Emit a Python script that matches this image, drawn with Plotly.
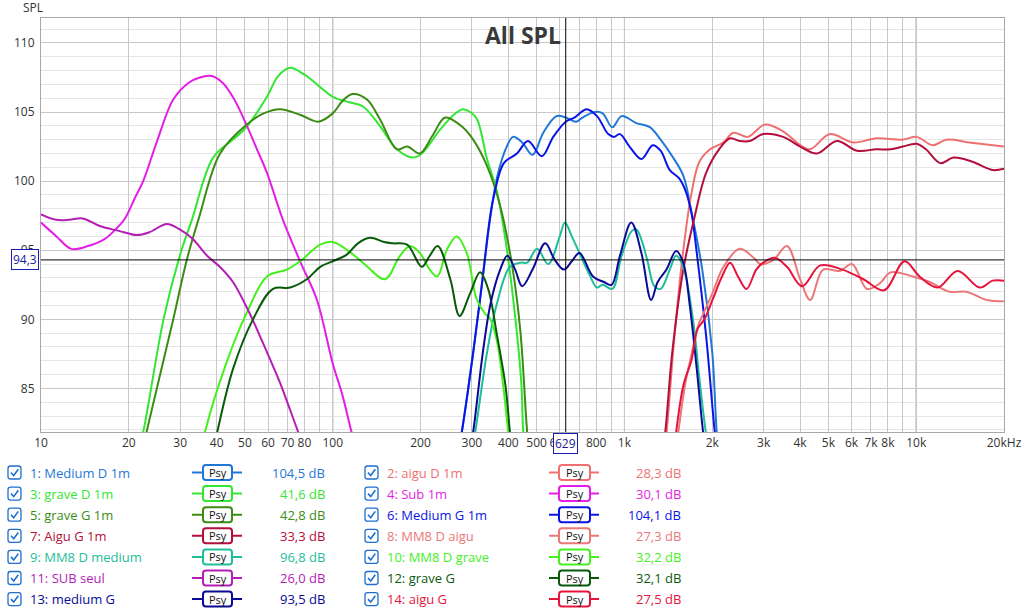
import numpy as np
import plotly.graph_objects as go

# %% courbes lues sur le graphe REW (Hz, dB SPL)
f1 = [270, 277, 303, 324, 345, 366, 397, 415, 446, 484, 527, 585, 629, 684, 718, 792, 842, 908, 978, 1098, 1222, 1330, 1458, 1591, 1700, 1848, 2000, 2072, 2110]
s1 = [80.5, 81.85, 87.6, 92.4, 97.0, 100.3, 102.6, 103.2, 102.8, 101.9, 103.5, 104.7, 104.6, 104.3, 104.6, 105.0, 104.9, 103.9, 104.7, 104.2, 103.9, 103.0, 101.8, 100.4, 97.7, 93.6, 87.6, 81.85, 80.5]

f2 = [1370, 1395, 1480, 1591, 1700, 1807, 1966, 2185, 2363, 2646, 3037, 3497, 4003, 4332, 5064, 6075, 7324, 8984, 10036, 11390, 12703, 15201, 20000]
s2 = [80.5, 81.85, 88.5, 95.0, 99.2, 101.4, 102.3, 102.8, 103.5, 103.2, 104.1, 103.6, 102.6, 102.3, 103.4, 102.8, 103.1, 103.0, 103.2, 102.6, 103.0, 102.8, 102.5]

f3 = [21.5, 22.4, 26.3, 29.9, 32.9, 38.9, 45.5, 50.8, 59.5, 65, 71.3, 80, 90.6, 100, 114, 127, 145, 166, 188, 202, 233, 260, 279, 296, 312, 338, 366, 395, 422, 443, 450, 458]
s3 = [80.5, 81.85, 90.0, 94.6, 97.2, 101.7, 103.0, 103.95, 106.1, 107.6, 108.2, 107.7, 106.8, 106.1, 105.7, 105.4, 104.0, 102.3, 101.7, 102.0, 103.7, 104.8, 105.2, 105.0, 104.5, 101.6, 99.2, 95.1, 90.2, 85.4, 81.85, 80.5]

f4 = [10, 11.3, 12.7, 14.5, 16.5, 18.0, 19.4, 21.0, 22.4, 25, 28.4, 32, 35, 38.5, 42, 46, 50.8, 55, 59.5, 67.5, 77.3, 88.3, 100, 108, 116, 120]
s4 = [97.0, 96.0, 95.1, 95.3, 95.8, 96.5, 97.3, 98.8, 100.0, 102.9, 105.9, 107.1, 107.5, 107.6, 107.1, 105.9, 104.0, 102.3, 100.6, 97.2, 94.2, 91.4, 86.8, 84.5, 81.85, 80.8]

f5 = [22.3, 23.0, 28.4, 31.6, 34.8, 41.1, 50.8, 58, 66.0, 77.3, 89.1, 100, 108, 117, 131, 145, 166, 180, 199, 220, 243, 279, 303, 338, 375, 412, 440, 464, 472]
s5 = [80.5, 81.85, 90.0, 94.3, 97.35, 102.0, 104.1, 104.9, 105.2, 104.8, 104.3, 104.9, 105.8, 106.3, 105.9, 104.5, 102.3, 102.5, 102.0, 103.3, 104.6, 103.9, 103.0, 101.1, 98.2, 93.9, 89.1, 81.85, 80.5]

f6 = [270, 277, 303, 324, 345, 355, 386, 428, 467, 521, 570, 629, 674, 742, 805, 880, 920, 965, 1041, 1143, 1250, 1330, 1430, 1540, 1620, 1700, 1770, 1905, 2040, 2080]
s6 = [80.5, 81.85, 87.6, 92.4, 97.2, 98.7, 101.3, 102.0, 102.9, 101.8, 103.2, 104.3, 104.6, 105.2, 104.7, 103.4, 103.2, 103.4, 102.5, 101.6, 102.6, 102.2, 100.8, 100.2, 99.3, 97.6, 94.8, 88.8, 81.85, 80.5]

f7 = [1350, 1380, 1458, 1591, 1730, 1905, 2110, 2302, 2484, 2690, 2990, 3497, 4003, 4572, 5350, 6270, 7300, 8170, 9000, 10036, 10800, 12100, 13420, 15580, 18270, 20000]
s7 = [80.5, 81.85, 87.6, 93.6, 97.2, 100.6, 102.3, 103.1, 102.9, 102.9, 103.4, 103.2, 102.5, 102.0, 102.9, 102.2, 102.3, 102.3, 102.5, 102.7, 102.3, 101.3, 101.7, 101.4, 100.8, 100.9]

f8 = [1500, 1530, 1620, 1700, 1780, 1880, 2003, 2185, 2484, 2790, 2920, 3240, 3606, 4003, 4332, 4798, 5470, 6026, 6784, 7500, 8170, 9740, 11130, 13010, 14850, 17450, 20000]
s8 = [80.5, 81.85, 85.5, 87.5, 89.4, 90.6, 91.9, 93.8, 95.1, 94.4, 94.0, 94.3, 95.3, 92.9, 91.4, 93.6, 93.5, 94.0, 92.2, 92.6, 93.4, 93.1, 92.7, 92.0, 92.0, 91.4, 91.3]

f9 = [300, 308, 338, 366, 405, 440, 464, 502, 548, 600, 625, 660, 701, 760, 805, 842, 908, 978, 1060, 1100, 1150, 1200, 1265, 1330, 1430, 1504, 1590, 1717, 1807, 1900, 1950]
s9 = [80.5, 81.85, 87.6, 91.2, 93.8, 94.1, 94.1, 95.1, 94.0, 96.0, 97.0, 96.0, 94.8, 93.2, 92.3, 92.5, 92.2, 94.6, 96.4, 96.5, 95.6, 94.2, 92.4, 92.2, 93.6, 94.6, 93.8, 90.0, 85.7, 81.85, 80.5]

f10 = [35.5, 36.5, 43.3, 50.8, 59.5, 69.6, 77.3, 90.6, 100, 114, 130, 151, 170, 184, 199, 215, 228, 247, 266, 288, 311, 333, 345, 365, 385, 400, 410]
s10 = [80.5, 81.85, 86.9, 90.5, 93.1, 93.6, 94.2, 95.4, 95.6, 94.9, 93.9, 92.9, 94.6, 95.3, 94.8, 93.6, 93.1, 95.1, 96.0, 94.8, 91.5, 90.4, 90.1, 88.5, 85.0, 81.85, 80.5]

f11 = [10, 11.3, 12.5, 13.9, 15.9, 18.5, 21.3, 23.5, 27.0, 29.9, 33.2, 37.1, 41, 45.5, 52, 56, 61, 66, 71, 76.1, 80]
s11 = [97.6, 97.2, 97.2, 97.3, 96.75, 96.4, 96.1, 96.3, 96.9, 96.5, 95.8, 94.6, 93.8, 92.7, 90.4, 88.9, 87.1, 85.4, 83.6, 81.85, 80.5]

f12 = [39, 40.2, 45.5, 53.3, 62.4, 71.5, 81.5, 90.6, 100, 112, 122, 134, 150, 161, 180, 202, 215, 229, 253, 272, 296, 320, 341, 366, 391, 405, 412]
s12 = [80.5, 81.85, 86.4, 90.0, 92.2, 92.3, 92.9, 93.8, 94.2, 94.7, 95.5, 95.9, 95.6, 95.5, 95.4, 93.8, 94.6, 95.3, 92.9, 90.25, 91.9, 93.4, 92.2, 88.8, 85.2, 81.85, 80.5]

f13 = [295, 303, 327, 348, 375, 397, 422, 446, 484, 535, 577, 620, 660, 701, 780, 850, 903, 965, 1055, 1143, 1234, 1300, 1393, 1504, 1590, 1675, 1770, 1860, 1900]
s13 = [80.5, 81.85, 87.6, 91.2, 93.6, 94.6, 93.6, 92.4, 93.6, 95.5, 94.3, 93.6, 94.2, 94.8, 93.1, 92.7, 92.5, 94.6, 97.0, 94.8, 91.4, 92.7, 93.6, 94.95, 94.1, 91.0, 86.4, 81.85, 80.5]

f14 = [1480, 1504, 1591, 1700, 1780, 1880, 2003, 2160, 2302, 2450, 2621, 2830, 2990, 3274, 3606, 4065, 4688, 5580, 6590, 7760, 9120, 10270, 11840, 13870, 16520, 18270, 20000]
s14 = [80.5, 81.85, 85.2, 87.1, 89.3, 90.0, 91.4, 93.1, 94.1, 93.1, 92.2, 93.6, 94.1, 94.45, 93.8, 92.4, 93.9, 93.6, 92.9, 92.1, 94.2, 93.1, 92.3, 93.5, 92.3, 92.8, 92.8]

names = ["1: Medium D 1m", "2: aigu D 1m", "3: grave D 1m", "4: Sub 1m", "5: grave G 1m",
         "6: Medium G 1m", "7: Aigu G 1m", "8: MM8 D aigu", "9: MM8 D medium", "10: MM8 D grave",
         "11: SUB seul", "12: grave G", "13: medium G", "14: aigu G"]
levels = ["104,5 dB", "28,3 dB", "41,6 dB", "30,1 dB", "42,8 dB", "104,1 dB", "33,3 dB",
          "27,3 dB", "96,8 dB", "32,2 dB", "26,0 dB", "32,1 dB", "93,5 dB", "27,5 dB"]
colors = ["#1f78d8", "#f07070", "#32e632", "#e51ee5", "#3c8c14", "#0a14e6", "#b40f3c",
          "#eb7878", "#1ebe9b", "#46f01e", "#b41eb4", "#0a5a0a", "#0a0a96", "#e6143c"]

freqs = [f1, f2, f3, f4, f5, f6, f7, f8, f9, f10, f11, f12, f13, f14]
spls = [s1, s2, s3, s4, s5, s6, s7, s8, s9, s10, s11, s12, s13, s14]

x_ticks = [10, 20, 30, 40, 50, 60, 70, 80, 90, 100, 200, 300, 400, 500, 600, 700, 800, 900,
           1000, 2000, 3000, 4000, 5000, 6000, 7000, 8000, 9000, 10000, 20000]
x_labels = ["10", "20", "30", "40", "50", "60", "70", "80", "", "100", "200", "300", "400", "500",
            "600", "", "800", "", "1k", "2k", "3k", "4k", "5k", "6k", "7k", "8k", "", "10k", "20kHz"]
cursor_f = 629
cursor_db = 94.3

# %% figure
W, H = 1024, 610
L, R, T, B = 41, 1004, 18, 432


def px(x):
    return (x - L) / (R - L)


def py(y):
    return (B - y) / (B - T)


fig = go.Figure()
for f, s, c, n in zip(freqs, spls, colors, names):
    fig.add_trace(go.Scatter(x=f, y=s, mode="lines", name=n,
                             line=dict(color=c, width=2, shape="spline", smoothing=1.0),
                             showlegend=False, hoverinfo="skip"))

shapes = []
# lignes des decades plus foncees
for d in [100, 1000, 10000]:
    shapes.append(dict(type="line", xref="x", yref="paper", x0=d, x1=d, y0=0, y1=1,
                       line=dict(color="#7a7a7a", width=1), layer="between"))
# curseur
shapes.append(dict(type="line", xref="x", yref="paper", x0=cursor_f, x1=cursor_f, y0=0, y1=1,
                   line=dict(color="black", width=1), layer="above"))
shapes.append(dict(type="line", xref="paper", yref="y", x0=0, x1=1, y0=cursor_db, y1=cursor_db,
                   line=dict(color="black", width=1), layer="above"))


def rrect(x0, y0, x1, y1, r):
    rx = r / (R - L)
    ry = r / (B - T)
    a0, a1 = px(x0), px(x1)
    b0, b1 = py(y1), py(y0)
    return (f"M {a0+rx} {b0} L {a1-rx} {b0} Q {a1} {b0} {a1} {b0+ry} L {a1} {b1-ry} "
            f"Q {a1} {b1} {a1-rx} {b1} L {a0+rx} {b1} Q {a0} {b1} {a0} {b1-ry} "
            f"L {a0} {b0+ry} Q {a0} {b0} {a0+rx} {b0} Z")


annotations = []
row_y = [472.5 + 21.1 * i for i in range(7)]
cols = [dict(cb=8, txt=28, l0=192, b0=203, b1=232, l1=242, val=327),
        dict(cb=365, txt=385, l0=549, b0=559, b1=590, l1=599, val=683)]

for i in range(14):
    col = cols[i % 2]
    yc = row_y[i // 2]
    c = colors[i]
    # case a cocher
    shapes.append(dict(type="path", xref="paper", yref="paper",
                       path=rrect(col["cb"], yc - 6.5, col["cb"] + 13, yc + 6.5, 2.5),
                       line=dict(color="#1e6fd0", width=1.3), fillcolor="white"))
    x0 = col["cb"]
    shapes.append(dict(type="path", xref="paper", yref="paper",
                       path=f"M {px(x0+3)} {py(yc)} L {px(x0+5.7)} {py(yc+3)} L {px(x0+10.3)} {py(yc-3.3)}",
                       line=dict(color="#1e6fd0", width=1.6)))
    # symbole Psy
    shapes.append(dict(type="line", xref="paper", yref="paper",
                       x0=px(col["l0"]), x1=px(col["l1"]), y0=py(yc), y1=py(yc),
                       line=dict(color=c, width=2)))
    shapes.append(dict(type="path", xref="paper", yref="paper",
                       path=rrect(col["b0"], yc - 7.5, col["b1"], yc + 7.5, 3),
                       line=dict(color=c, width=2), fillcolor="white"))
    annotations.append(dict(x=px((col["b0"] + col["b1"]) / 2), y=py(yc), xref="paper", yref="paper",
                            text="Psy", showarrow=False, xanchor="center", yanchor="middle",
                            font=dict(family="Open Sans", size=11, color="#111")))
    annotations.append(dict(x=px(col["txt"]), y=py(yc), xref="paper", yref="paper",
                            text=names[i], showarrow=False, xanchor="left", yanchor="middle",
                            font=dict(family="Open Sans", size=13, color=c)))
    annotations.append(dict(x=px(col["val"]), y=py(yc), xref="paper", yref="paper",
                            text=levels[i], showarrow=False, xanchor="right", yanchor="middle",
                            font=dict(family="Open Sans", size=13, color=c)))

annotations += [
    dict(x=0.5, y=py(35), xref="paper", yref="paper", text="<b>All SPL</b>", showarrow=False,
         xanchor="center", yanchor="middle", font=dict(family="Open Sans", size=23, color="#3a3a3a")),
    dict(x=px(21), y=py(8), xref="paper", yref="paper", text="SPL", showarrow=False,
         xanchor="left", yanchor="middle", font=dict(family="Open Sans", size=12, color="#333")),
    dict(x=px(39), y=cursor_db, xref="paper", yref="y", text="94,3", showarrow=False,
         xanchor="right", yanchor="middle", bgcolor="white", bordercolor="#1a1ab4",
         borderwidth=1, borderpad=1, font=dict(family="Open Sans", size=12, color="#1a1a9a")),
    dict(x=np.log10(cursor_f), y=py(443.5), xref="x", yref="paper", text="629", showarrow=False,
         xanchor="center", yanchor="middle", bgcolor="white", bordercolor="#1a1ab4",
         borderwidth=1, borderpad=1, font=dict(family="Open Sans", size=12, color="#1a1a9a")),
]

fig.update_layout(
    width=W, height=H,
    margin=dict(l=L, r=W - R, t=T, b=H - B),
    paper_bgcolor="white", plot_bgcolor="white",
    shapes=shapes, annotations=annotations,
    xaxis=dict(type="log", range=[1, np.log10(20000)], tickmode="array", automargin=False,
               tickvals=x_ticks, ticktext=x_labels, showgrid=True, gridcolor="#c8c8c8",
               gridwidth=1, showline=True, mirror=True, linecolor="#a8a8a8", linewidth=1,
               ticks="", zeroline=False, tickfont=dict(family="Open Sans", size=12, color="#333")),
    yaxis=dict(range=[81.85, 111.8], tick0=0, dtick=5, showgrid=True, gridcolor="#c8c8c8",
               minor=dict(dtick=1, tick0=0, showgrid=True, gridcolor="#e6e6e6", ticks=""),
               showline=True, mirror=True, linecolor="#a8a8a8", linewidth=1, ticks="",
               zeroline=False, ticklabelstandoff=3, automargin=False,
               tickfont=dict(family="Open Sans", size=12, color="#333")),
)

# la page html a une marge de 8 px par defaut : on la retire
fig.write_html("out.html", config={"displayModeBar": False},
               post_script="document.body.style.margin='0';")
